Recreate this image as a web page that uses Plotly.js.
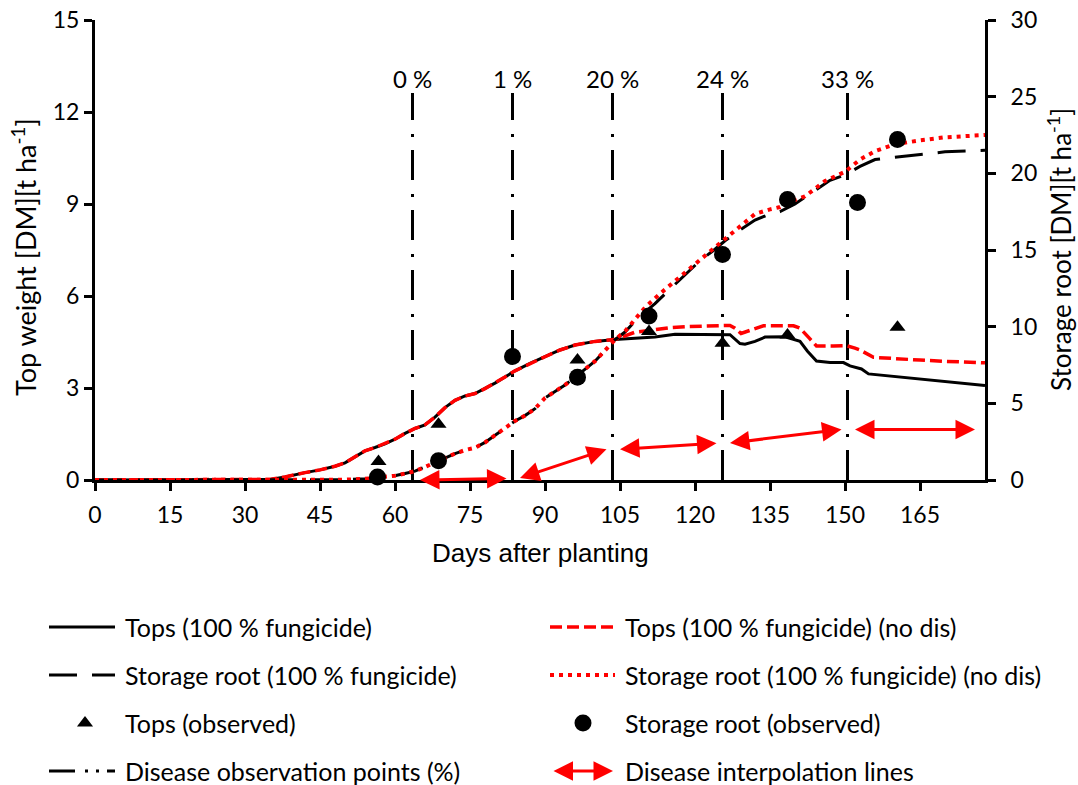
<!DOCTYPE html>
<html>
<head>
<meta charset="utf-8">
<script src="https://cdn.plot.ly/plotly-3.0.1.min.js"></script>
<style>html,body{margin:0;padding:0;background:#fff;}</style>
</head>
<body>
<div id="chart" style="width:1078px;height:785px"></div>
<script>
// ---- simulated top weight, t/ha DM (left axis) ----
const topsDays = [0, 10, 20, 30, 35, 38, 40, 42, 45, 48, 50, 52, 54, 56, 58, 60, 62, 64, 66, 68, 70, 72, 74, 76, 78, 80, 82, 84, 87, 90, 93, 96, 100, 104, 108, 112, 116, 120, 124, 127, 129, 130, 132, 134, 138, 141, 142.5, 144.3, 147, 149.7, 151, 153.3, 154.7, 160, 165, 170, 178];
const topsFungicide = [0, 0, 0, 0, 0.02, 0.1, 0.18, 0.24, 0.33, 0.45, 0.56, 0.75, 0.95, 1.06, 1.18, 1.33, 1.52, 1.68, 1.8, 2.05, 2.36, 2.6, 2.74, 2.82, 2.98, 3.16, 3.36, 3.56, 3.8, 4.02, 4.24, 4.4, 4.52, 4.58, 4.62, 4.66, 4.75, 4.75, 4.74, 4.74, 4.45, 4.43, 4.52, 4.66, 4.67, 4.52, 4.2, 3.88, 3.83, 3.83, 3.72, 3.62, 3.46, 3.37, 3.28, 3.2, 3.08];

const topsNoDisDays = [0, 10, 20, 30, 35, 38, 40, 42, 45, 48, 50, 52, 54, 56, 58, 60, 62, 64, 66, 68, 70, 72, 74, 76, 78, 80, 82, 84, 87, 90, 93, 96, 100, 104, 106, 108, 112, 115, 118, 124, 127, 128, 129.2, 131, 133.7, 139.7, 141, 143, 144.3, 147.7, 150.3, 152, 153, 155.7, 160, 165, 170, 178];
const topsNoDis = [0, 0, 0, 0, 0.02, 0.1, 0.18, 0.24, 0.33, 0.45, 0.56, 0.75, 0.95, 1.06, 1.18, 1.33, 1.52, 1.68, 1.8, 2.05, 2.36, 2.6, 2.74, 2.82, 2.98, 3.16, 3.36, 3.56, 3.8, 4.02, 4.24, 4.4, 4.52, 4.58, 4.7, 4.82, 4.9, 4.97, 5.0, 5.02, 5.04, 4.95, 4.78, 4.88, 5.03, 5.03, 4.95, 4.6, 4.37, 4.37, 4.38, 4.3, 4.24, 4.0, 3.95, 3.91, 3.87, 3.82];

// ---- simulated storage root, t/ha DM (right axis) ----
const rootDays = [0, 20, 40, 50, 54, 57, 60, 62, 64, 66, 68, 70, 72, 74, 76, 78, 80, 82, 84, 86, 88, 90, 92, 94, 96, 98, 100, 102, 104, 106, 108, 110, 112, 115, 118, 121, 124, 126, 129, 132, 135, 137, 140, 142, 144, 147, 150, 153, 156, 160, 165, 170, 178];
const rootFungicide = [0, 0, 0, 0.02, 0.08, 0.18, 0.28, 0.42, 0.58, 0.85, 1.15, 1.45, 1.72, 1.95, 2.1, 2.45, 2.9, 3.35, 3.85, 4.2, 4.65, 5.35, 5.75, 6.2, 6.7, 7.2, 7.75, 8.45, 9.15, 9.65, 10.35, 10.95, 11.5, 12.45, 13.35, 14.3, 15.05, 15.6, 16.3, 16.95, 17.35, 17.5, 18.0, 18.45, 18.9, 19.55, 19.9, 20.45, 20.9, 21.05, 21.25, 21.4, 21.5];

const rootNoDisDays = [0, 20, 40, 50, 54, 57, 60, 62, 64, 66, 68, 70, 72, 74, 76, 78, 80, 82, 84, 86, 88, 90, 92, 94, 96, 98, 100, 102, 104, 106, 108, 110, 113, 116, 118, 121, 125, 129, 132, 135, 137, 139, 142, 144, 146, 150, 153, 156, 160, 165, 170, 178];
const rootNoDis = [0, 0, 0, 0.02, 0.08, 0.18, 0.28, 0.42, 0.58, 0.85, 1.15, 1.45, 1.72, 1.95, 2.1, 2.45, 2.9, 3.35, 3.85, 4.2, 4.65, 5.35, 5.75, 6.2, 6.7, 7.2, 7.75, 8.45, 9.15, 9.7, 10.45, 11.25, 12.15, 12.95, 13.5, 14.35, 15.45, 16.5, 17.35, 17.65, 17.8, 18.15, 18.5, 19.0, 19.5, 20.1, 20.9, 21.45, 21.9, 22.15, 22.35, 22.5];

// ---- field observations ----
const obsTopsDays = [56.7, 68.7, 96.5, 110.8, 125.5, 138.5, 160.5];
const obsTops = [0.6, 1.82, 3.91, 4.84, 4.46, 4.73, 4.98];
const obsRootDays = [56.5, 68.7, 83.5, 96.5, 110.8, 125.5, 138.5, 152.5, 160.5];
const obsRoot = [0.2, 1.25, 8.05, 6.7, 10.7, 14.7, 18.3, 18.1, 22.2];

// ---- disease assessments: day and severity (%) ----
const diseaseDays = [63.5, 83.5, 103.5, 125.5, 150.5];
const diseasePct = [0, 1, 20, 24, 33];
const diseaseEndDay = 176;      // last interpolation arrow runs to here
const diseaseLineTop = 12.62;   // height of the observation markers (left axis units)

const xTicks = [0, 15, 30, 45, 60, 75, 90, 105, 120, 135, 150, 165];

// ---- figure geometry (pixels) ----
const W = 1078, H = 785;
const box = {l: 95, r: 985, t: 20, b: 480};
const fx = px => px / W;
const fy = py => 1 - py / H;

const FONT = 'Lato, "Open Sans", sans-serif';
const RED = '#ff0000';

// ---- line styles shared by plot and legend ----
const styles = {
  topsFung:  {color: '#000', width: 3},
  rootFung:  {color: '#000', width: 3, dash: '28px,15px'},
  topsNoDis: {color: RED, width: 3.5, dash: '12px,5px'},
  rootNoDis: {color: RED, width: 4, dash: '4px,5px'},
  disease:   {color: '#000', width: 3, dash: '30px,13px,3px,14px'}
};

const traces = [];

// disease observation markers (vertical dash-dot lines), drawn bottom-up
diseaseDays.forEach(d => {
  traces.push({x: [d, d], y: [0, diseaseLineTop], mode: 'lines', line: styles.disease,
    xaxis: 'x', yaxis: 'y', hoverinfo: 'skip', cliponaxis: false});
});

traces.push({x: topsDays, y: topsFungicide, mode: 'lines', line: styles.topsFung, yaxis: 'y', cliponaxis: false});
traces.push({x: rootDays, y: rootFungicide, mode: 'lines', line: styles.rootFung, yaxis: 'y2', cliponaxis: false});
traces.push({x: topsNoDisDays, y: topsNoDis, mode: 'lines', line: styles.topsNoDis, yaxis: 'y', cliponaxis: false});
traces.push({x: rootNoDisDays, y: rootNoDis, mode: 'lines', line: styles.rootNoDis, yaxis: 'y2', cliponaxis: false});

const triMarker = {symbol: 'triangle-up', size: 14, color: '#000'};
const dotMarker = {symbol: 'circle', size: 17, color: '#000'};
traces.push({x: obsTopsDays, y: obsTops, mode: 'markers', marker: triMarker, yaxis: 'y', cliponaxis: false});
traces.push({x: obsRootDays, y: obsRoot, mode: 'markers', marker: dotMarker, yaxis: 'y2', cliponaxis: false});

const annotations = [];

// severity labels above each observation line
diseaseDays.forEach((d, i) => {
  annotations.push({x: d, y: diseaseLineTop, xref: 'x', yref: 'y', text: diseasePct[i] + ' %',
    showarrow: false, xanchor: 'center', yanchor: 'bottom', yshift: -2,
    font: {family: FONT, size: 24, color: '#000'}});
});

// interpolation arrows between assessments (severity/10 on the right axis)
const arrowGap = 1.2;
function doubleArrow(x0, y0, x1, y1, xref, yref) {
  return {x: x1, y: y1, ax: x0, ay: y0, xref: xref, yref: yref, axref: xref, ayref: yref,
    text: '', showarrow: true, arrowside: 'end+start', arrowhead: 2, startarrowhead: 2,
    arrowsize: 1.3, startarrowsize: 1.3, arrowwidth: 3, arrowcolor: RED,
    standoff: 0, startstandoff: 0};
}
diseaseDays.forEach((d, i) => {
  const last = i === diseaseDays.length - 1;
  const x0 = d + arrowGap;
  const x1 = last ? diseaseEndDay : diseaseDays[i + 1] - arrowGap;
  const y0 = diseasePct[i] / 10;
  const y1 = last ? y0 : diseasePct[i + 1] / 10;
  annotations.push(doubleArrow(x0, y0, x1, y1, 'x', 'y2'));
});

// axis titles
annotations.push({x: fx(540), y: fy(553), xref: 'paper', yref: 'paper', text: 'Days after planting',
  showarrow: false, xanchor: 'center', yanchor: 'middle',
  font: {family: '"Liberation Sans", Arial, sans-serif', size: 26, color: '#000'}});
annotations.push({x: fx(24), y: fy(257), xref: 'paper', yref: 'paper', text: 'Top weight [DM][t ha<sup>-1</sup>]',
  showarrow: false, textangle: -90, xanchor: 'center', yanchor: 'middle',
  font: {family: FONT, size: 27, color: '#000'}});
annotations.push({x: fx(1060), y: fy(250), xref: 'paper', yref: 'paper', text: 'Storage root [DM][t ha<sup>-1</sup>]',
  showarrow: false, textangle: -90, xanchor: 'center', yanchor: 'middle',
  font: {family: FONT, size: 26, color: '#000'}});

// ---- legend (drawn on a full-figure pixel overlay) ----
const legendRows = [627, 675, 723, 771];
const legendCols = [{x0: 49, x1: 115, text: 123}, {x0: 550, x1: 615, text: 623}];
const legendItems = [
  {col: 0, row: 0, label: 'Tops (100 % fungicide)', line: styles.topsFung},
  {col: 1, row: 0, label: 'Tops (100 % fungicide) (no dis)', line: styles.topsNoDis},
  {col: 0, row: 1, label: 'Storage root (100 % fungicide)', line: styles.rootFung},
  {col: 1, row: 1, label: 'Storage root (100 % fungicide) (no dis)', line: styles.rootNoDis},
  {col: 0, row: 2, label: 'Tops (observed)', marker: triMarker, mx: 85},
  {col: 1, row: 2, label: 'Storage root (observed)', marker: dotMarker, mx: 583},
  {col: 0, row: 3, label: 'Disease observation points (%)', line: Object.assign({}, styles.disease, {dash: '26px,10px,3px,8px,3px,8px,12px'})},
  {col: 1, row: 3, label: 'Disease interpolation lines', arrow: true}
];
legendItems.forEach(it => {
  const c = legendCols[it.col], y = legendRows[it.row];
  if (it.line) {
    traces.push({x: [c.x0, c.x1], y: [y, y], mode: 'lines', line: it.line, xaxis: 'x3', yaxis: 'y3', cliponaxis: false});
  } else if (it.marker) {
    traces.push({x: [it.mx], y: [y], mode: 'markers', marker: it.marker, xaxis: 'x3', yaxis: 'y3', cliponaxis: false});
  } else if (it.arrow) {
    annotations.push(doubleArrow(c.x0 + 2, y, c.x1 - 2, y, 'x3', 'y3'));
  }
  annotations.push({x: c.text, y: y, xref: 'x3', yref: 'y3', text: it.label, showarrow: false,
    xanchor: 'left', yanchor: 'middle', font: {family: FONT, size: 25, color: '#000'}});
});

const axisCommon = {
  showline: true, linewidth: 3, linecolor: '#000', showgrid: false, zeroline: false,
  ticks: 'outside', ticklen: 8, tickwidth: 3, tickcolor: '#000',
  tickfont: {family: FONT, size: 23, color: '#000'}, layer: 'below traces', fixedrange: true
};

const layout = {
  width: W, height: H, margin: {l: 0, r: 0, t: 0, b: 0},
  paper_bgcolor: '#fff', plot_bgcolor: 'rgba(0,0,0,0)', showlegend: false,
  font: {family: FONT, size: 23, color: '#000'},
  xaxis: Object.assign({}, axisCommon, {domain: [fx(box.l), fx(box.r)], range: [0, 178],
    tickvals: xTicks, ticktext: xTicks.map(String), anchor: 'y', ticklabelstandoff: 4}),
  yaxis: Object.assign({}, axisCommon, {domain: [fy(box.b), fy(box.t)], range: [0, 15],
    tick0: 0, dtick: 3, anchor: 'x'}),
  yaxis2: Object.assign({}, axisCommon, {overlaying: 'y', side: 'right', range: [0, 30],
    tick0: 0, dtick: 5, anchor: 'x', ticklabelstandoff: 10}),
  xaxis3: {domain: [0, 1], range: [0, W], visible: false, anchor: 'y3', fixedrange: true},
  yaxis3: {domain: [0, 1], range: [H, 0], visible: false, anchor: 'x3', fixedrange: true},
  annotations: annotations
};

Plotly.newPlot('chart', traces, layout, {staticPlot: true, displayModeBar: false});
</script>
</body>
</html>
